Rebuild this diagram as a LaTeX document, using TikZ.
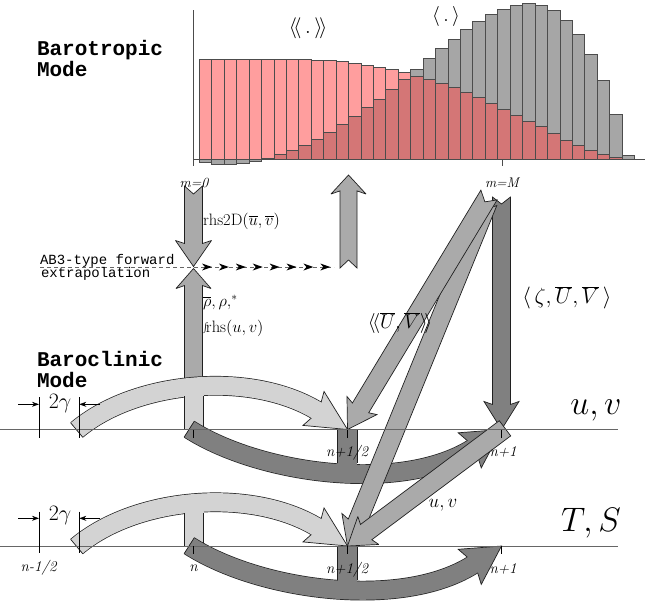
\RequirePackage{fix-cm}
\documentclass[tikz,border=0pt]{standalone}
\usepackage{fontspec}
\newfontfamily\monofont{Liberation Mono}
\usetikzlibrary{calc,arrows.meta}
\definecolor{lgray}{HTML}{D3D3D3}
\definecolor{mgray}{HTML}{AAAAAA}
\definecolor{dgray}{HTML}{808080}
\definecolor{bargray}{HTML}{A6A6A6}
\definecolor{lpink}{HTML}{FF9E9E}
\definecolor{dpink}{HTML}{D47676}
\definecolor{edge}{HTML}{202020}
\newcommand\fsz[1]{\fontsize{#1}{#1}\selectfont}
\def\fahw{17.5}
\def\fainset{6}
\def\cahw{20}
\def\cainset{6}
\tikzset{
 olin/.style={draw=edge, line width=0.7pt, line join=miter, miter limit=3},
 barline/.style={draw=black!70, line width=0.55pt},
 tline/.style={draw=black!60, line width=0.8pt},
 tmark/.style={draw=black, line width=0.6pt},
 dimarr/.style={draw=black, line width=0.6pt, -{Stealth[length=7pt,width=5pt]}},
 lbl/.style={inner sep=0pt, outer sep=0pt},
}
% straight fat arrow: #1 fill, #2 tail, #3 tip, #4 notch, #5 head length, #6 shaft half width
\newcommand\fatarrow[6]{%
  \pgfmathsetmacro\faj{\fainset*(1-#6/\fahw)}%
  \coordinate (faB) at ($(#3)!#5pt!(#2)$);%
  \coordinate (faJ) at ($(faB)!\faj pt!(#3)$);%
  \coordinate (faN) at ($(#2)!#4pt!(#3)$);%
  \filldraw[olin, fill=#1] ($(#2)!#6pt!90:(#3)$) -- (faN) -- ($(#2)!#6pt!-90:(#3)$)
    -- ($(faJ)!#6pt!-90:(#3)$) -- ($(faB)!\fahw pt!-90:(#3)$) -- (#3)
    -- ($(faB)!\fahw pt!90:(#3)$) -- ($(faJ)!#6pt!90:(#3)$) -- cycle;%
}
% curved fat arrow: #1 fill, #2 tail, #3 first control, #4 second control distance, #5 head direction point, #6 tip, #7 head length
\newcommand\curvarrow[7]{%
  \coordinate (caB) at ($(#6)!#7pt!(#5)$);%
  \coordinate (caJ) at ($(caB)!\cainset pt!(#6)$);%
  \coordinate (caC) at ($(caJ)!#4pt!(#5)$);%
  \coordinate (caE) at ($(caJ)!2pt!(#6)$);%
  \draw[line width=19.7pt, draw=edge] (#2) .. controls (#3) and (caC) .. (caJ) -- (caE);%
  \filldraw[olin, fill=#1] (caJ) -- ($(caB)!\cahw pt!90:(#6)$) -- (#6) -- ($(caB)!\cahw pt!-90:(#6)$) -- cycle;%
  \draw[line width=18.3pt, draw=#1] (#2) .. controls (#3) and (caC) .. (caJ) -- (caE);%
  \draw[olin] ($(#2)!9.5pt!90:(#3)$) -- ($(#2)!9.5pt!-90:(#3)$);%
}
\begin{document}
\begin{tikzpicture}[x=1pt,y=-1pt]
\useasboundingbox (0,0) rectangle (650,600);
% ---------------- bar chart
\foreach \g/\p [count=\i from 0] in {-3/100,-4.67/100,-5/100,-4/100,-1.67/100,1.33/100,5/100,9.33/100,14.33/100,20.33/99.33,27/98.67,35/97.67,42.67/96,51.67/94,60.33/92,70/89.67,80.33/86.67,90.33/83.33,101/80,111/76,120.33/71.67,130/66.67,138.33/62,145/56,150.33/50,154/44,155.67/38,154/32.67,148.67/25.67,138.67/19.33,125/14,105.33/9,79/5,45.33/2,4/0}{
  \pgfmathsetmacro\xa{199.3+12.43*\i}
  \pgfmathsetmacro\xb{\xa+12.43}
  \pgfmathsetmacro\mn{min(\g,\p)}
  \filldraw[barline, fill=bargray] (\xa,159.3) rectangle (\xb,{159.3-(\g)});
  \ifdim\p pt>0pt \filldraw[barline, fill=lpink] (\xa,159.3) rectangle (\xb,{159.3-(\p)}); \fi
  \ifdim\mn pt>0pt \filldraw[barline, fill=dpink] (\xa,159.3) rectangle (\xb,{159.3-(\mn)}); \fi
}
\coordinate (axT) at (193,10); \coordinate (axB) at (193,166);
\coordinate (axL) at (193,159.3); \coordinate (axR) at (645,159.3);
\coordinate (tkT) at (502,159.3); \coordinate (tkB) at (502,166);
\draw[barline] (axT) -- (axB);
\draw[barline] (axL) -- (axR);
\draw[barline] (tkT) -- (tkB);
\node[lbl] (chA) at (308,28) {\fsz{21}$\langle\!\langle\,.\,\rangle\!\rangle$};
\node[lbl] (chB) at (446,16) {\fsz{20}$\langle\,.\,\rangle$};
% ---------------- barotropic arrows
\coordinate (m0) at (193.5,186);
\coordinate (ABd) at (193.5,266.5);
\coordinate (ABu) at (193.5,268.5);
\coordinate (bcl) at (193.5,392);
\coordinate (upB) at (348.5,268);
\coordinate (upT) at (348.5,175);
\coordinate (dl) at (40,267);
\coordinate (dr) at (334,267);
\draw[draw=black!60, line width=0.8pt, dash pattern=on 4pt off 3pt] (dl) -- (dr);
\foreach \k in {0,...,7}{
  \fill[black] ({212+16.9*\k},267) -- ++(-10,-3.5) -- ++(3,3.5) -- ++(-3,3.5) -- cycle;
}
\def\fahw{18}\fatarrow{mgray}{m0}{ABd}{8}{26}{9}
\def\fahw{17.5}\fatarrow{mgray}{upB}{upT}{8}{19}{8.5}
\fatarrow{mgray}{bcl}{ABu}{0}{20}{9}
% ---------------- time points
\coordinate (uvn) at (193.5,429.5); \coordinate (uvh) at (347.5,429.5); \coordinate (uv1) at (501.5,429.5);
\coordinate (tsn) at (193.5,546);   \coordinate (tsh) at (347.5,546);   \coordinate (ts1) at (501.5,546);
% ---------------- u,v row arcs
\coordinate (LS1) at (76.7,430); \coordinate (LC1) at (136.4,379.8); \coordinate (LD1) at (313.3,408.3);
\def\cahw{20}\curvarrow{lgray}{LS1}{LC1}{78}{LD1}{uvh}{40}
\fill[lgray] (184.2,429.5) rectangle (203.8,391.5);
\draw[olin] (184.2,396.3) -- (184.2,429.5) -- (203.8,429.5) -- (203.8,396.3);
\coordinate (DS1) at (189.2,429.2); \coordinate (DC1) at (260.9,475.0); \coordinate (DD1) at (469.5,450.5);
\def\cahw{21}\curvarrow{dgray}{DS1}{DC1}{85}{DD1}{uv1}{38}
\fill[dgray] (337.7,429.5) rectangle (357.3,467);
\draw[olin] (337.7,463) -- (337.7,429.5) -- (357.3,429.5) -- (357.3,463);
% ---------------- T,S row arcs
\coordinate (LS2) at (76.7,546.5); \coordinate (LC2) at (136.4,496.3); \coordinate (LD2) at (313.3,524.8);
\def\cahw{20}\curvarrow{lgray}{LS2}{LC2}{78}{LD2}{tsh}{40}
\fill[lgray] (184.2,546) rectangle (203.8,508);
\draw[olin] (184.2,512.8) -- (184.2,546) -- (203.8,546) -- (203.8,512.8);
\coordinate (DS2) at (189.2,545.7); \coordinate (DC2) at (260.9,591.5); \coordinate (DD2) at (469.5,567);
\def\cahw{21}\curvarrow{dgray}{DS2}{DC2}{85}{DD2}{ts1}{38}
\fill[dgray] (337.7,546) rectangle (357.3,583.5);
\draw[olin] (337.7,579.5) -- (337.7,546) -- (357.3,546) -- (357.3,579.5);
% ---------------- coupling arrows
\coordinate (mMV) at (501.5,197);
\coordinate (mM2) at (488,202);
\coordinate (mM1) at (489,195);
\coordinate (uvt) at (505,428.3);
\fatarrow{dgray}{mMV}{uv1}{7}{28}{9}
\fatarrow{mgray}{mM2}{tsh}{8}{28}{9.5}
\fatarrow{mgray}{mM1}{uvh}{8}{28}{9.5}
\fatarrow{mgray}{uvt}{tsh}{0}{26}{9.5}
% ---------------- time lines and ticks
\coordinate (uvL) at (0,429.5); \coordinate (uvR) at (618,429.5);
\coordinate (tsL) at (0,546);   \coordinate (tsR) at (618,546);
\draw[tline] (uvL) -- (uvR);
\draw[tline] (tsL) -- (tsR);
\foreach \c in {uvn,uvh,uv1,tsn,tsh,ts1}{ \draw[tmark] (\c) -- ++(0,8); }
% 2 gamma markers
\coordinate (g1a) at (39,397.3);  \coordinate (g1b) at (39,438.3);
\coordinate (g1c) at (79.3,397.3);\coordinate (g1d) at (79.3,438.3);
\coordinate (g2a) at (39,511.7);  \coordinate (g2b) at (39,552.7);
\coordinate (g2c) at (79.3,511.7);\coordinate (g2d) at (79.3,552.7);
\draw[tmark] (g1a) -- (g1b); \draw[tmark] (g1c) -- (g1d);
\draw[tmark] (g2a) -- (g2b); \draw[tmark] (g2c) -- (g2d);
\coordinate (a1s) at (18,404.3); \coordinate (a1e) at (39,404.3);
\coordinate (a2s) at (100,404.3); \coordinate (a2e) at (79.3,404.3);
\coordinate (a3s) at (18,518.3); \coordinate (a3e) at (39,518.3);
\coordinate (a4s) at (100,518.3); \coordinate (a4e) at (79.3,518.3);
\draw[dimarr] (a1s) -- (a1e); \draw[dimarr] (a2s) -- (a2e);
\draw[dimarr] (a3s) -- (a3e); \draw[dimarr] (a4s) -- (a4e);
\node[lbl] (gam1) at (60,403.5) {\fsz{22}$2\gamma$};
\node[lbl] (gam2) at (60,515.5) {\fsz{22}$2\gamma$};
% ---------------- texts
\node[lbl, anchor=base west] (bt1) at (37,55.7) {\fsz{21}\monofont\bfseries Barotropic};
\node[lbl, anchor=base west] (bt2) at (37,76.7) {\fsz{21}\monofont\bfseries Mode};
\node[lbl, anchor=base west] (bc1) at (37,366.7) {\fsz{21}\monofont\bfseries Baroclinic};
\node[lbl, anchor=base west] (bc2) at (37,387.7) {\fsz{21}\monofont\bfseries Mode};
\node[lbl, anchor=base west] (ab1) at (40,264) {\fsz{14}\monofont AB3-type forward};
\node[lbl, anchor=base west] (ab2) at (41,277.3) {\fsz{14}\monofont extrapolation};
\node[lbl, anchor=base west] (rh2) at (203,225) {\fsz{16.5}rhs2D$(\overline{u},\overline{v})$};
\node[lbl, anchor=base west] (rho) at (203,306) {\fsz{16.5}$\overline{\rho},\rho,^{*}$};
\node[lbl, anchor=base west] (irh) at (202,332) {\fsz{16.5}$\int\!$rhs$(u,v)$};
\node[lbl] (tm0) at (194,183) {\fsz{14}\itshape m=0};
\node[lbl] (tmM) at (502,183) {\fsz{14}\itshape m=M};
\node[lbl] (tUV) at (400,323) {\fsz{20}$\langle\!\langle\overline{U},\overline{V}\rangle\!\rangle$};
\node[lbl] (tZ) at (567,298) {\fsz{22}$\langle\,\zeta,\overline{U},\overline{V}\,\rangle$};
\node[lbl] (tuvs) at (443,505) {\fsz{19}$u,v$};
\node[lbl] (tuvb) at (596,410) {\fsz{34}$u,v$};
\node[lbl] (tTS) at (591,523) {\fsz{34}$T,S$};
\node[lbl] (l1) at (347,453) {\fsz{15}\itshape n+1/2};
\node[lbl] (l2) at (503,452) {\fsz{15}\itshape n+1};
\node[lbl] (l3) at (38.5,568) {\fsz{15}\itshape n-1/2};
\node[lbl] (l4) at (193.5,568) {\fsz{15}\itshape n};
\node[lbl] (l5) at (347,569.5) {\fsz{15}\itshape n+1/2};
\node[lbl] (l6) at (503,569) {\fsz{15}\itshape n+1};
\end{tikzpicture}
\end{document}
